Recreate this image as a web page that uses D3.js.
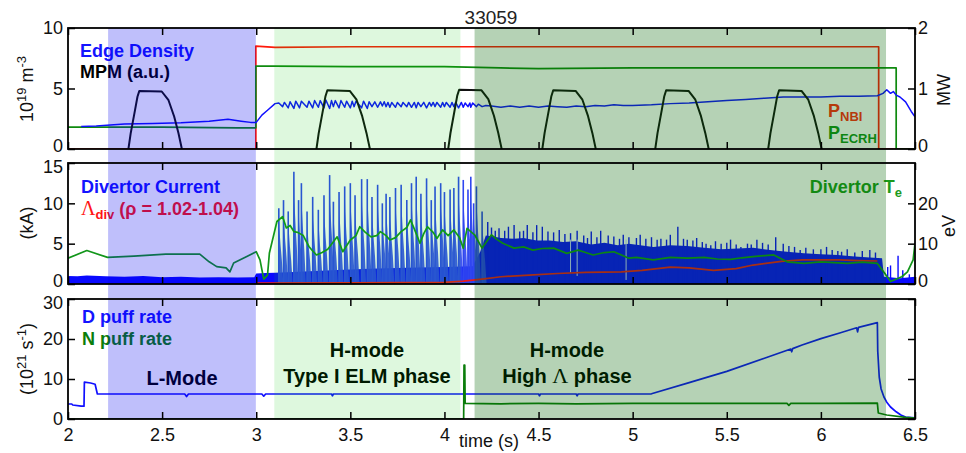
<!DOCTYPE html>
<html><head><meta charset="utf-8">
<script src="https://cdn.jsdelivr.net/npm/d3@7/dist/d3.min.js"></script>
<style>body{margin:0;background:#fff} text{font-family:"Liberation Sans",Arial,sans-serif}</style>
</head><body><svg id="c" width="966" height="453"></svg>
<script>
// ---------------- DATA ----------------
const shotTitle = "33059";
const xTicks = [2, 2.5, 3, 3.5, 4, 4.5, 5, 5.5, 6, 6.5];
const xTickLabels = ["2", "2.5", "3", "3.5", "4", "4.5", "5", "5.5", "6", "6.5"];
const p1LeftTicks = [0, 5, 10], p1RightTicks = [0, 1, 2];
const p2LeftTicks = [0, 5, 10, 15], p2RightTicks = [0, 10, 20];
const p3LeftTicks = [0, 10, 20, 30], p3RightTicks = [0, 10, 20, 30];

// phases [start, end]
const phaseLmode = [2.213, 2.998];
const phaseElm = [3.096, 4.085];
const phaseHighL = [4.16, 6.346];

// Panel 1 (right axis MW)
const nbiPower = [[2.0,0],[2.998,0],[2.998,1.70],[3.1,1.68],[3.5,1.69],[4.0,1.69],[4.5,1.69],[5.0,1.69],[5.5,1.69],[6.0,1.69],[6.307,1.69],[6.307,0],[6.5,0]];
const ecrhPower = [[2.0,0.36],[2.5,0.36],[2.9,0.35],[2.998,0.35],[2.998,1.37],[3.1,1.37],[3.5,1.36],[4.0,1.36],[4.3,1.34],[4.5,1.33],[5.0,1.34],[5.5,1.34],[6.0,1.34],[6.40,1.34],[6.40,0],[6.5,0]];
// Panel 1 (left axis 1e19 m^-3)
const edgeDensity = [[2.07,1.85],[2.15,1.9],[2.3,2.07],[2.45,2.1],[2.6,2.17],[2.75,2.3],[2.85,2.45],[2.92,2.3],[2.97,2.2],[3.0,2.2],[3.03,2.8],[3.06,3.2],[3.1,3.75],
 [3.12,3.8],[3.14,3.5],[3.15,3.85],[3.17,3.4],[3.18,3.9],[3.20,3.35],[3.21,3.95],[3.23,3.4],[3.24,3.95],[3.27,3.45],[3.28,3.95],[3.30,3.4],[3.31,4.0],[3.33,3.45],[3.34,4.0],[3.36,3.4],[3.37,4.05],[3.39,3.35],[3.40,4.0],[3.41,3.5],[3.42,4.0],[3.44,3.4],[3.45,4.0],[3.47,3.45],[3.48,3.95],[3.50,3.4],[3.51,3.95],[3.52,3.5],[3.53,3.95],[3.56,3.4],[3.57,3.95],[3.59,3.35],[3.60,3.9],[3.615,3.5],[3.63,3.9],[3.645,3.45],[3.66,3.9],[3.67,3.55],[3.68,3.9],[3.69,3.5],[3.70,3.85],[3.71,3.45],[3.72,3.85],[3.74,3.45],[3.75,3.85],[3.77,3.5],[3.78,3.85],[3.80,3.5],[3.81,3.85],[3.825,3.45],[3.84,3.85],[3.85,3.4],[3.86,3.85],[3.875,3.5],[3.89,3.85],[3.905,3.4],[3.92,3.85],[3.93,3.55],[3.94,3.85],[3.95,3.5],[3.96,3.85],[3.98,3.45],[3.99,3.85],[4.00,3.5],[4.01,3.85],[4.03,3.45],[4.04,3.85],[4.05,3.5],[4.06,3.85],[4.075,3.4],[4.09,3.85],[4.10,3.45],[4.11,3.8],[4.125,3.5],[4.135,3.8],[4.14,3.45],[4.15,3.8],[4.17,3.5],[4.18,3.7],[4.20,3.5],[4.22,3.6],
 [4.25,3.55],[4.3,3.45],[4.35,3.55],[4.4,3.45],[4.45,3.55],[4.5,3.45],[4.55,3.55],[4.6,3.5],[4.65,3.45],[4.7,3.55],[4.75,3.5],[4.8,3.6],[4.85,3.55],[4.9,3.65],[4.95,3.6],[5.0,3.6],[5.1,3.65],[5.2,3.75],[5.3,3.8],[5.4,3.9],[5.5,4.0],[5.6,4.1],[5.7,4.2],[5.8,4.3],[5.9,4.3],[6.0,4.3],[6.1,4.35],[6.2,4.35],[6.3,4.4],[6.33,4.6],[6.35,4.9],[6.37,4.6],[6.385,4.75],[6.40,4.45],[6.42,4.3],[6.45,3.9],[6.48,3.1],[6.5,2.65]];
// MPM probe plunges
const mpmStart = [2.321, 3.32, 4.02, 4.52, 5.12, 5.72];
const mpmTop = [4.8, 4.85, 4.9, 4.85, 4.85, 4.85];
const mpmShapeDt = [0, 0.012, 0.035, 0.048, 0.058, 0.177, 0.213, 0.243, 0.266, 0.284];
const mpmShapeFrac = [0, 0.27, 0.67, 0.9, 1, 0.99, 0.84, 0.56, 0.27, 0];

// Panel 2 (left axis kA)
const divCurrentBase = [[2.0,1.0],[2.05,0.95],[2.1,1.05],[2.2,0.95],[2.3,0.9],[2.4,1.0],[2.5,0.85],[2.6,0.9],[2.7,0.8],[2.8,0.85],[2.9,0.8],[2.99,0.85],[3.0,1.3],[3.05,1.35],[3.1,1.4],[3.2,1.5],[3.4,1.7],[3.6,1.9],[3.8,2.0],[4.0,2.1],[4.15,2.2],[4.19,4.0],
 [4.22,6.0],[4.26,5.9],[4.3,5.7],[4.37,5.6],[4.42,5.7],[4.49,5.4],[4.56,5.4],[4.63,5.2],[4.70,5.3],[4.78,4.9],[4.85,5.1],[4.92,4.8],[4.98,5.0],[5.04,4.8],[5.11,4.6],[5.2,4.8],[5.29,4.7],[5.38,4.5],[5.47,4.3],[5.56,4.4],[5.64,4.5],[5.73,4.2],[5.82,4.0],[5.91,3.8],[6.0,3.7],[6.09,3.6],[6.18,3.4],[6.26,3.3],[6.325,3.2],[6.335,0.9],[6.38,0.8],[6.42,0.7],[6.46,0.8],[6.5,0.9]];
const elmPeaks = [[3.12,9.4],[3.145,10.4],[3.17,9.0],[3.20,13.9],[3.225,10.4],[3.24,12.5],[3.27,9.0],[3.30,10.8],[3.33,9.2],[3.36,11.0],[3.39,13.5],[3.41,10.2],[3.44,11.4],[3.47,12.1],[3.50,12.5],[3.525,11.0],[3.56,13.0],[3.59,13.0],[3.615,10.8],[3.645,12.3],[3.67,10.0],[3.69,11.2],[3.71,10.8],[3.74,11.9],[3.77,12.3],[3.80,10.4],[3.825,12.5],[3.85,13.3],[3.875,11.2],[3.905,13.1],[3.93,10.4],[3.95,12.1],[3.98,12.5],[4.00,11.4],[4.03,11.7],[4.05,11.9],[4.075,13.3],[4.10,12.9],[4.125,11.7],[4.14,13.3],[4.155,10.0],[4.17,12.1],[4.20,9.0]];
const elmShapeDt = [-0.002, 0, 0.003, 0.009, 0.016, 0.024];
const elmShapeFrac = [0, 1, 0.74, 0.52, 0.32, 0];
const smallSpikes = [[4.23,7.7],[4.25,7.0],[4.27,6.6],[4.29,6.9],[4.32,6.6],[4.34,7.1],[4.37,7.3],[4.40,6.5],[4.42,6.6],[4.44,7.3],[4.47,6.4],[4.49,7.3],[4.52,7.1],[4.55,6.5],[4.58,6.4],[4.61,6.7],[4.64,6.2],[4.67,6.3],[4.705,6.6],[4.74,6.0],[4.76,5.7],[4.78,6.5],[4.81,5.8],[4.83,6.6],[4.87,6.0],[4.90,5.9],[4.93,5.6],[4.95,6.1],[4.98,5.8],[5.02,5.7],[5.04,6.1],[5.07,5.6],[5.10,5.8],[5.13,5.5],[5.15,5.6],[5.18,5.5],[5.20,6.1],[5.24,7.1],[5.27,5.6],[5.29,5.5],[5.32,5.4],[5.34,5.7],[5.37,5.2],[5.39,5.0],[5.415,4.8],[5.44,5.3],[5.47,5.0],[5.50,5.1],[5.52,5.5],[5.55,4.9],[5.575,4.6],[5.61,5.0],[5.63,4.9],[5.66,5.5],[5.69,5.1],[5.72,4.9],[5.76,5.8],[5.80,5.0],[5.83,4.7],[5.86,4.6],[5.89,4.2],[5.92,4.5],[5.96,4.3],[6.00,4.3],[6.03,4.6],[6.06,4.2],[6.09,4.1],[6.11,4.0],[6.14,4.3],[6.18,3.9],[6.22,4.1],[6.26,4.2],[6.29,3.9],[6.355,2.1],[6.37,2.3],[6.41,3.5],[6.435,1.7],[6.47,1.2]];
const divNotches = [[4.67,1.4],[4.705,1.0],[4.965,0.5]];
const lambdaDiv = [[2.998,0.1],[3.5,0.15],[4.0,0.2],[4.1,0.35],[4.2,0.6],[4.3,0.9],[4.45,1.1],[4.6,1.3],[4.75,1.45],[4.94,1.5],[5.05,1.7],[5.2,2.1],[5.3,2.0],[5.43,1.7],[5.55,1.9],[5.64,2.35],[5.79,2.8],[5.9,3.0],[6.0,3.0],[6.1,3.0],[6.2,2.9],[6.3,2.85]];
// Panel 2 (right axis eV)
const divertorTe = [[2.0,6.4],[2.10,8.3],[2.21,6.6],[2.35,6.9],[2.52,7.4],[2.70,7.4],[2.75,5.5],[2.79,4.3],[2.84,4.0],[2.86,3.0],[2.88,5.2],[2.95,6.8],[3.0,8.0],[3.02,6.0],[3.04,1.2],[3.06,2.2],[3.07,7.7],[3.11,15.5],[3.14,16.7],[3.16,13.9],[3.18,14.5],[3.20,13.0],[3.22,12.8],[3.25,12.0],[3.28,9.3],[3.30,8.2],[3.32,7.2],[3.35,7.8],[3.38,8.6],[3.41,10.5],[3.43,11.7],[3.46,8.0],[3.48,9.5],[3.50,10.9],[3.53,12.0],[3.55,14.2],[3.58,12.8],[3.61,11.7],[3.64,12.0],[3.66,13.0],[3.69,12.0],[3.71,10.9],[3.74,11.5],[3.77,13.0],[3.80,14.0],[3.82,15.9],[3.85,12.5],[3.87,10.1],[3.89,12.5],[3.91,14.2],[3.94,12.8],[3.96,11.3],[3.99,13.4],[4.02,12.0],[4.05,13.4],[4.08,11.5],[4.10,8.9],[4.12,13.8],[4.16,12.2],[4.20,8.9],[4.25,12.2],[4.28,11.0],[4.31,10.1],[4.37,8.9],[4.42,9.2],[4.47,8.4],[4.52,8.8],[4.58,8.9],[4.65,7.6],[4.71,8.4],[4.75,7.8],[4.79,7.2],[4.85,7.8],[4.90,8.0],[4.98,6.4],[5.02,6.6],[5.11,6.0],[5.2,6.6],[5.29,6.4],[5.38,6.6],[5.45,6.2],[5.52,6.1],[5.58,6.5],[5.64,6.8],[5.75,7.2],[5.82,5.5],[5.91,5.1],[6.00,5.5],[6.07,5.3],[6.14,5.1],[6.22,5.4],[6.30,5.1],[6.34,2.6],[6.37,0.6],[6.43,1.8],[6.46,3.0],[6.49,6.0],[6.50,10.1]];

// Panel 3 (1e21 s^-1)
const dPuff = [[2.0,3.75],[2.02,3.75],[2.025,3.5],[2.07,3.2],[2.085,3.2],[2.087,9.2],[2.12,9.0],[2.144,8.7],[2.156,6.25],[2.62,6.25],[2.63,5.6],[2.64,6.25],[3.03,6.25],[3.04,5.7],[3.05,6.25],[3.40,6.25],[3.405,5.8],[3.41,6.25],[4.5,6.25],[4.505,5.8],[4.51,6.25],[4.7,6.25],[4.705,5.8],[4.71,6.25],[5.1,6.3],[5.3,9.1],[5.5,11.9],[5.7,15.2],[5.84,17.5],[5.845,16.8],[5.85,17.6],[5.9,18.5],[6.0,20.1],[6.1,21.5],[6.19,22.8],[6.195,21.8],[6.2,22.9],[6.3,24.1],[6.302,17.0],[6.31,10.5],[6.32,7.5],[6.335,5.5],[6.35,4.2],[6.37,3.0],[6.40,1.8],[6.425,1.0],[6.45,0.5],[6.5,0.3]];
const nPuff = [[2.0,0],[4.102,0],[4.104,13.5],[4.108,13.5],[4.11,3.9],[4.3,3.8],[4.5,3.9],[4.7,3.8],[5.0,3.9],[5.3,3.9],[5.5,3.9],[5.82,3.9],[5.83,3.4],[5.84,3.9],[6.0,3.9],[6.3,3.95],[6.305,1.5],[6.35,1.0],[6.45,0.4],[6.5,0.2]];

// ---------------- DRAW ----------------
const svg = d3.select("#c");
const X0 = 68, X1 = 915;
const x = d3.scaleLinear().domain([2, 6.5]).range([X0, X1]);
const P = [{t:28,b:149},{t:163,b:284},{t:299,b:419}];
const y1L = d3.scaleLinear().domain([0,10]).range([P[0].b,P[0].t]);
const y1R = d3.scaleLinear().domain([0,2]).range([P[0].b,P[0].t]);
const y2L = d3.scaleLinear().domain([0,15]).range([P[1].b,P[1].t]);
const y2R = d3.scaleLinear().domain([0,30]).range([P[1].b,P[1].t]);
const y3L = d3.scaleLinear().domain([0,30]).range([P[2].b,P[2].t]);
const y3R = d3.scaleLinear().domain([0,30]).range([P[2].b,P[2].t]);

const defs = svg.append("defs");
P.forEach((p,i)=>{
  defs.append("clipPath").attr("id","cp"+i).append("rect")
    .attr("x",X0).attr("y",p.t).attr("width",X1-X0).attr("height",p.b-p.t);
});
const dataLayer = svg.append("g");
const textLayer = svg.append("g");
const overlayLayer = svg.append("g");
const frameLayer = svg.append("g");

const g = P.map((p,i)=>dataLayer.append("g").attr("clip-path",`url(#cp${i})`));
const lineFn = ys => d3.line().x(d=>x(d[0])).y(d=>ys(d[1]));
function drawLine(gi, data, ys, color, w){
  gi.append("path").attr("d", lineFn(ys)(data)).attr("fill","none")
    .attr("stroke",color).attr("stroke-width",w).attr("stroke-linejoin","round");
}

// ---- Panel 1
drawLine(g[0], nbiPower, y1R, "#ff1a0a", 1.7);
drawLine(g[0], ecrhPower, y1R, "#0f8a0f", 1.7);
drawLine(g[0], edgeDensity, y1L, "#1010ff", 1.5);
mpmStart.forEach((s,k)=>{
  const pts = mpmShapeDt.map((dt,j)=>[s+dt, mpmTop[k]*mpmShapeFrac[j]]);
  drawLine(g[0], pts, y1L, "#111", 2.0);
});

// ---- Panel 2
const areaL2 = d3.area().x(d=>x(d[0])).y0(y2L(0)).y1(d=>y2L(d[1]));
g[1].append("path").attr("d", areaL2(divCurrentBase)).attr("fill","#0a0aff");
elmPeaks.forEach(([t,pk])=>{
  const pts = elmShapeDt.map((dt,j)=>[t+dt, pk*elmShapeFrac[j]]);
  g[1].append("path").attr("d", areaL2(pts)).attr("fill","#2f46f0").attr("fill-opacity",0.9);
  g[1].append("line").attr("x1",x(t)).attr("x2",x(t)).attr("y1",y2L(0)).attr("y2",y2L(pk))
    .attr("stroke","#2f46f0").attr("stroke-width",1.6);
});
smallSpikes.forEach(([t,pk])=>{
  g[1].append("line").attr("x1",x(t)).attr("x2",x(t)).attr("y1",y2L(0)).attr("y2",y2L(pk))
    .attr("stroke","#0a0aff").attr("stroke-width",1.4);
});
divNotches.forEach(([t,v])=>{
  g[1].append("line").attr("x1",x(t)).attr("x2",x(t)).attr("y1",y2L(v)).attr("y2",y2L(5.5))
    .attr("stroke","#c8d0ff").attr("stroke-width",1);
});
drawLine(g[1], lambdaDiv, y2L, "#ee1a1a", 1.7);
drawLine(g[1], divertorTe, y2R, "#12961a", 1.7);

// ---- Panel 3
drawLine(g[2], dPuff, y3L, "#1010ff", 1.7);
drawLine(g[2], nPuff, y3L, "#0b7d0b", 1.7);

// ---------------- TEXTS ----------------
const FS = 18;
function txt(parent, xx, yy, opts){
  const t = parent.append("text").attr("x",xx).attr("y",yy).attr("font-size",opts.size||FS)
    .attr("font-weight",opts.bold?"bold":"normal").attr("fill",opts.color||"#000");
  if(opts.anchor) t.attr("text-anchor",opts.anchor);
  return t;
}
txt(svg, 491, 24, {size:19, anchor:"middle", color:"#222"}).text(shotTitle);

txt(textLayer, 80, 57, {bold:true, color:"#1414ff"}).text("Edge Density");
txt(textLayer, 80, 78, {bold:true, color:"#000"}).text("MPM (a.u.)");
{ const t = txt(textLayer, 828, 117, {bold:true, color:"#ff2a10"}); t.append("tspan").text("P");
  t.append("tspan").attr("font-size",13).attr("dy",4).text("NBI"); }
{ const t = txt(textLayer, 828, 139, {bold:true, color:"#13941a"}); t.append("tspan").text("P");
  t.append("tspan").attr("font-size",13).attr("dy",4).text("ECRH"); }

txt(textLayer, 81, 193, {bold:true, color:"#1414ff"}).text("Divertor Current");
{ const t = txt(textLayer, 81, 215, {bold:true, color:"#ff1414"});
  t.append("tspan").attr("font-family","Liberation Serif").attr("font-weight","normal").attr("font-size",20).text("Λ");
  t.append("tspan").attr("font-size",13).attr("dy",4).text("div");
  t.append("tspan").attr("dy",-4).text(" (ρ = 1.02-1.04)"); }
{ const t = txt(textLayer, 902, 193, {bold:true, color:"#1c9a1c", anchor:"end"}); t.append("tspan").text("Divertor T");
  t.append("tspan").attr("font-size",13).attr("dy",4).text("e"); }

txt(textLayer, 82, 323, {bold:true, color:"#1414ff"}).text("D puff rate");
txt(textLayer, 82, 345, {bold:true, color:"#0b7d0b"}).text("N puff rate");

txt(textLayer, 182, 385, {bold:true, size:20, anchor:"middle"}).text("L-Mode");
txt(textLayer, 367, 357, {bold:true, size:20, anchor:"middle"}).text("H-mode");
txt(textLayer, 367, 383, {bold:true, size:20, anchor:"middle"}).text("Type I ELM phase");
txt(textLayer, 567, 357, {bold:true, size:20, anchor:"middle"}).text("H-mode");
{ const t = txt(textLayer, 567, 383, {bold:true, size:20, anchor:"middle"});
  t.append("tspan").text("High ");
  t.append("tspan").attr("font-family","Liberation Serif").attr("font-weight","normal").attr("font-size",22).text("Λ");
  t.append("tspan").text(" phase"); }

// ---------------- OVERLAYS ----------------
const ovTop = P[0].t, ovBot = P[2].b;
[[phaseLmode,"rgb(0,0,240)",0.25],[phaseElm,"rgb(0,200,0)",0.13],[phaseHighL,"rgb(0,100,0)",0.29]].forEach(([ph,c,a])=>{
  overlayLayer.append("rect").attr("x",x(ph[0])).attr("width",x(ph[1])-x(ph[0]))
    .attr("y",ovTop).attr("height",ovBot-ovTop).attr("fill",c).attr("fill-opacity",a);
});

// ---------------- AXES / FRAMES ----------------
const TL = 7;
function styleAxis(sel){
  sel.select(".domain").remove();
  sel.selectAll("line").attr("stroke","#000").attr("stroke-width",1.5);
  sel.selectAll("text").attr("font-size",FS).attr("fill","#111")
    .attr("font-family",'"Liberation Sans",Arial,sans-serif');
}
const panelY = [[y1L,y1R,p1LeftTicks,p1RightTicks,true],[y2L,y2R,p2LeftTicks,p2RightTicks,true],[y3L,y3R,p3LeftTicks,p3RightTicks,false]];
P.forEach((p,i)=>{
  const [yl,yr,lt,rt,rlab] = panelY[i];
  frameLayer.append("g").attr("transform",`translate(0,${p.t})`)
    .call(d3.axisTop(x).tickValues(xTicks).tickSize(-TL).tickFormat(""))
    .call(styleAxis);
  frameLayer.append("g").attr("transform",`translate(0,${p.b})`)
    .call(d3.axisBottom(x).tickValues(xTicks).tickSize(-TL).tickPadding(9.5)
      .tickFormat(i===2 ? (d=>xTickLabels[xTicks.indexOf(d)]) : ""))
    .call(styleAxis);
  const la = frameLayer.append("g").attr("transform",`translate(${X0},0)`)
    .call(d3.axisLeft(yl).tickValues(lt).tickSize(-TL).tickPadding(5).tickFormat(d3.format("d")))
    .call(styleAxis);
  const lo = yl.domain()[0], hi = yl.domain()[1];
  la.selectAll(".tick text").attr("y", d => (d===lo && i<2) ? -3.5 : (d===hi && i>0) ? 3.5 : 0);
  const ra = frameLayer.append("g").attr("transform",`translate(${X1},0)`)
    .call(d3.axisRight(yr).tickValues(rt).tickSize(-TL).tickPadding(3)
      .tickFormat(rlab ? (d => (i===1 && d===30) ? "" : d3.format("d")(d)) : ""))
    .call(styleAxis);
  ra.selectAll(".tick text").attr("y", d => (d===0 && i<2) ? -3.5 : 0);
  frameLayer.append("rect").attr("x",X0).attr("y",p.t).attr("width",X1-X0).attr("height",p.b-p.t)
    .attr("fill","none").attr("stroke","#000").attr("stroke-width",1.8);
});

txt(svg, 459, 447, {color:"#111"}).text("time (s)");

function ylab(xx, yy, build){
  const t = svg.append("text").attr("transform",`translate(${xx},${yy}) rotate(-90)`)
    .attr("text-anchor","middle").attr("font-size",FS).attr("fill","#111");
  build(t);
}
ylab(33, 89, t=>{ t.append("tspan").text("10"); t.append("tspan").attr("font-size",13).attr("dy",-7).text("19");
  t.append("tspan").attr("dy",7).text(" m"); t.append("tspan").attr("font-size",13).attr("dy",-7).text("-3"); });
ylab(33, 223, t=>{ t.text("(kA)"); });
ylab(33, 359, t=>{ t.append("tspan").text("(10"); t.append("tspan").attr("font-size",13).attr("dy",-7).text("21");
  t.append("tspan").attr("dy",7).text(" s"); t.append("tspan").attr("font-size",13).attr("dy",-7).text("-1");
  t.append("tspan").attr("dy",7).text(")"); });
ylab(950, 90, t=>{ t.text("MW"); });
ylab(955, 226, t=>{ t.text("eV"); });
</script></body></html>
